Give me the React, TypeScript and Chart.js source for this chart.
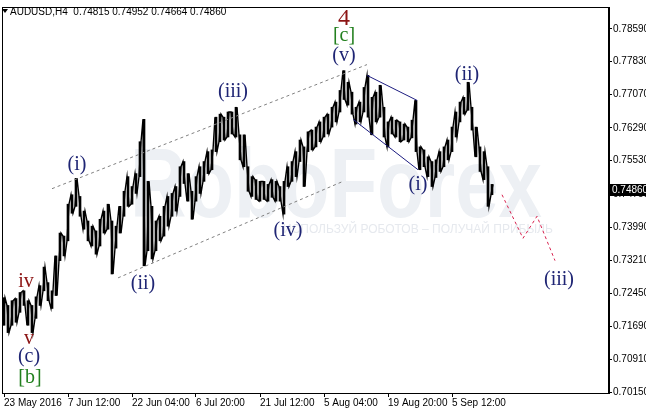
import React, { useEffect, useRef } from 'react';
import { Chart, registerables } from 'chart.js';
Chart.register(...registerables);

// AUDUSD H4 bars (high / low), one entry per bar slot
const highs = [
  0.7235, 0.7217, 0.7228, 0.7233, 0.7247, 0.7251, 0.7228, 0.7217, 0.7237, 0.7263,
  0.7306, 0.7270, 0.7251, 0.7332, 0.7385, 0.7378, 0.7452, 0.7474, 0.7512, 0.7470,
  0.7436, 0.7413, 0.7401, 0.7390, 0.7417, 0.7436, 0.7452, 0.7413, 0.7401, 0.7447,
  0.7482, 0.7516, 0.7493, 0.7523, 0.7597, 0.7649, 0.7505, 0.7447, 0.7413, 0.7424,
  0.7447, 0.7470, 0.7477, 0.7493, 0.7539, 0.7551, 0.7523, 0.7482, 0.7516, 0.7539,
  0.7551, 0.7574, 0.7578, 0.7654, 0.7661, 0.7654, 0.7666, 0.7666, 0.7677, 0.7613,
  0.7613, 0.7539, 0.7516, 0.7509, 0.7505, 0.7505, 0.7498, 0.7509, 0.7505, 0.7493,
  0.7505, 0.7539, 0.7551, 0.7574, 0.7601, 0.7585, 0.7620, 0.7624, 0.7631, 0.7643,
  0.7654, 0.7661, 0.7677, 0.7689, 0.7716, 0.7762, 0.7735, 0.7712, 0.7677, 0.7689,
  0.7723, 0.7751, 0.7700, 0.7712, 0.7728, 0.7677, 0.7643, 0.7654, 0.7647, 0.7643,
  0.7638, 0.7631, 0.7647, 0.7693, 0.7585, 0.7578, 0.7562, 0.7551, 0.7555, 0.7574,
  0.7585, 0.7601, 0.7631, 0.7666, 0.7689, 0.7700, 0.7735, 0.7677, 0.7631, 0.7585,
  0.7574, 0.7539, 0.7498,
];
const lows = [
  0.7171, 0.7154, 0.7171, 0.7178, 0.7201, 0.7217, 0.7171, 0.7154, 0.7187, 0.7217,
  0.7251, 0.7228, 0.7210, 0.7240, 0.7321, 0.7332, 0.7367, 0.7431, 0.7447, 0.7424,
  0.7394, 0.7367, 0.7355, 0.7336, 0.7355, 0.7385, 0.7394, 0.7290, 0.7350, 0.7385,
  0.7424, 0.7447, 0.7452, 0.7477, 0.7516, 0.7309, 0.7344, 0.7325, 0.7344, 0.7367,
  0.7378, 0.7401, 0.7424, 0.7436, 0.7470, 0.7500, 0.7459, 0.7417, 0.7459, 0.7477,
  0.7505, 0.7523, 0.7532, 0.7574, 0.7597, 0.7601, 0.7608, 0.7615, 0.7608, 0.7555,
  0.7539, 0.7482, 0.7470, 0.7463, 0.7459, 0.7463, 0.7459, 0.7468, 0.7459, 0.7459,
  0.7429, 0.7493, 0.7505, 0.7516, 0.7551, 0.7493, 0.7574, 0.7578, 0.7585, 0.7597,
  0.7608, 0.7615, 0.7631, 0.7643, 0.7666, 0.7695, 0.7682, 0.7661, 0.7638, 0.7643,
  0.7666, 0.7654, 0.7613, 0.7643, 0.7654, 0.7608, 0.7585, 0.7615, 0.7608, 0.7597,
  0.7601, 0.7597, 0.7606, 0.7574, 0.7532, 0.7539, 0.7516, 0.7493, 0.7514, 0.7528,
  0.7539, 0.7555, 0.7574, 0.7608, 0.7643, 0.7661, 0.7670, 0.7624, 0.7562, 0.7528,
  0.7509, 0.7447, 0.7474,
];

const priceTicks = [0.7859, 0.7783, 0.7707, 0.7629, 0.7553, 0.7475, 0.7399, 0.7321, 0.7245, 0.7169, 0.7091, 0.7015];
const timeTickPos = [0, 16, 32, 48, 64, 80, 96, 112];
const timeTickLabels = ['23 May 2016', '7 Jun 12:00', '22 Jun 04:00', '6 Jul 20:00', '21 Jul 12:00', '5 Aug 04:00', '19 Aug 20:00', '5 Sep 12:00'];
const lastPrice = 0.7486;
const titleText = 'AUDUSD,H4  0.74815 0.74952 0.74664 0.74860';

// Channel / pattern lines (bar index, price)
const upperChannelX = [12, 90.75];
const upperChannelY = [0.7488, 0.7776];
const lowerChannelX = [28.5, 84.75];
const lowerChannelY = [0.7281, 0.7505];
const wedgeTopX = [90.75, 103.25];
const wedgeTopY = [0.7751, 0.7693];
const wedgeBotX = [87.25, 103.5];
const wedgeBotY = [0.7649, 0.7532];
const forecastX = [124.5, 129.75, 133.25, 137.75];
const forecastY = [0.7474, 0.7373, 0.7424, 0.7321];

// Wave labels
const waveText = ['(i)', '(ii)', '(iii)', '(iv)', '(v)', '[c]', '4', '(i)', '(ii)', '(iii)', 'iv', 'v', '(c)', '[b]'];
const waveX = [18.25, 34.75, 57.25, 71, 85, 85, 85, 103.5, 115.75, 138.75, 5.5, 6.25, 6.25, 6.5];
const waveY = [0.7544, 0.7268, 0.7712, 0.7390, 0.7797, 0.7843, 0.7882, 0.7496, 0.7753, 0.7277, 0.7272, 0.7139, 0.7097, 0.7050];
const NAVY = '#1f2574';
const DRED = '#8c1414';
const GREEN = '#23801f';
const waveColor = [NAVY, NAVY, NAVY, NAVY, NAVY, GREEN, DRED, NAVY, NAVY, NAVY, DRED, DRED, NAVY, GREEN];
const waveSize = [20, 20, 20, 20, 20, 20, 24, 20, 20, 20, 20, 20, 20, 20];

const toXY = (xs: number[], ys: number[]) => xs.map((x, i) => ({ x, y: ys[i] }));

const overlayPlugin = {
  id: 'overlay',
  beforeDatasetsDraw(chart: any) {
    const { ctx, chartArea: a } = chart;
    ctx.save();
    ctx.beginPath();
    ctx.rect(a.left, a.top, a.right - a.left, a.bottom - a.top);
    ctx.clip();
    // faint watermark
    ctx.fillStyle = '#edf0f4';
    ctx.font = 'bold 98px "Liberation Sans", Arial, sans-serif';
    ctx.textBaseline = 'alphabetic';
    const w = ctx.measureText('RoboForex').width;
    const targetW = 412;
    ctx.save();
    ctx.translate(130, 217);
    ctx.scale(targetW / w, 1);
    ctx.fillText('RoboForex', 0, 0);
    ctx.restore();
    ctx.fillStyle = '#e6e9ee';
    ctx.font = '12px "Liberation Sans", Arial, sans-serif';
    ctx.textBaseline = 'middle';
    ctx.fillText('ИСПОЛЬЗУЙ РОБОТОВ – ПОЛУЧАЙ ПРИБЫЛЬ', 283, 230);
    ctx.restore();
  },
  afterDatasetsDraw(chart: any) {
    const { ctx } = chart;
    const xs = chart.scales.x;
    const ys = chart.scales.y;
    ctx.save();
    ctx.textAlign = 'center';
    ctx.textBaseline = 'middle';
    waveText.forEach((t, i) => {
      ctx.font = `${waveSize[i]}px "Liberation Serif", "Times New Roman", serif`;
      ctx.fillStyle = waveColor[i];
      ctx.fillText(t, xs.getPixelForValue(waveX[i]), ys.getPixelForValue(waveY[i]));
    });
    ctx.restore();
  },
  afterDraw(chart: any) {
    const { ctx, chartArea: a } = chart;
    const ys = chart.scales.y;
    ctx.save();
    // frame
    ctx.strokeStyle = '#000';
    ctx.lineWidth = 1;
    ctx.strokeRect(a.left + 0.5, a.top + 0.5, a.right - a.left - 1, a.bottom - a.top);
    // current price box
    const py = Math.round(ys.getPixelForValue(lastPrice));
    ctx.fillStyle = '#000';
    ctx.fillRect(a.right, py - 6, 646 - a.right, 12);
    ctx.fillStyle = '#fff';
    ctx.font = '10px "Liberation Sans", Arial, sans-serif';
    ctx.textAlign = 'left';
    ctx.textBaseline = 'middle';
    ctx.fillText(lastPrice.toFixed(5), a.right + 3, py);
    // title
    ctx.fillStyle = '#000';
    ctx.beginPath();
    ctx.moveTo(2, 9);
    ctx.lineTo(8, 9);
    ctx.lineTo(5, 13);
    ctx.closePath();
    ctx.fill();
    ctx.font = '10px "Liberation Sans", Arial, sans-serif';
    ctx.fillText(titleText, 10, 12);
    ctx.restore();
  },
};

export default function App() {
  const ref = useRef<HTMLCanvasElement>(null);
  useEffect(() => {
    if (!ref.current) return;
    const bars = highs.map((h, i) => ({ x: i, y: [lows[i], h] }));
    // price path through each bar's range (low then high, or high then low alternately)
    const path: { x: number; y: number }[] = [];
    highs.forEach((h, i) => {
      if (i % 2 === 0) {
        path.push({ x: i - 0.25, y: lows[i] });
        path.push({ x: i + 0.25, y: h });
      } else {
        path.push({ x: i - 0.25, y: h });
        path.push({ x: i + 0.25, y: lows[i] });
      }
    });
    const lineDs = (xs: number[], ys: number[], color: string, dash: number[]) => ({
      type: 'line' as const,
      data: toXY(xs, ys),
      borderColor: color,
      borderWidth: 1,
      borderDash: dash,
      pointRadius: 0,
      fill: false,
      tension: 0,
      order: 0,
    });
    const chart = new Chart(ref.current, {
      type: 'bar',
      data: {
        datasets: [
          lineDs(upperChannelX, upperChannelY, '#808080', [3, 3]) as any,
          lineDs(lowerChannelX, lowerChannelY, '#808080', [3, 3]) as any,
          lineDs(wedgeTopX, wedgeTopY, '#1c1c80', []) as any,
          lineDs(wedgeBotX, wedgeBotY, '#1c1c80', []) as any,
          lineDs(forecastX, forecastY, '#d8234f', [3, 3]) as any,
          {
            type: 'line',
            data: path as any,
            borderColor: '#000',
            borderWidth: 1.4,
            pointRadius: 0,
            fill: false,
            tension: 0,
            order: 1,
          } as any,
          {
            type: 'bar',
            data: bars as any,
            backgroundColor: '#000',
            borderWidth: 0,
            barThickness: 2,
            order: 2,
          } as any,
        ],
      },
      options: {
        animation: false,
        responsive: false,
        devicePixelRatio: 1,
        layout: { padding: { left: 2, top: 4, right: 0, bottom: 0 } },
        plugins: { legend: { display: false }, tooltip: { enabled: false }, title: { display: false } },
        scales: {
          x: {
            type: 'linear',
            min: -0.5,
            max: 151.25,
            offset: false,
            grid: { display: true, drawOnChartArea: false, tickLength: 4, color: '#000', offset: false },
            border: { display: true, color: '#000' },
            afterBuildTicks: (s: any) => { s.ticks = timeTickPos.map((v) => ({ value: v })); },
            afterFit: (s: any) => { s.height = 21; },
            ticks: {
              autoSkip: false,
              maxRotation: 0,
              align: 'start',
              padding: 0,
              color: '#000',
              font: { family: '"Liberation Sans", Arial, sans-serif', size: 10 },
              callback: (v: any) => timeTickLabels[timeTickPos.indexOf(Number(v))] ?? '',
            },
          },
          y: {
            type: 'linear',
            position: 'right',
            min: 0.70138,
            max: 0.79097,
            grid: { display: true, drawOnChartArea: false, tickLength: 3, color: '#000' },
            border: { display: true, color: '#000' },
            afterBuildTicks: (s: any) => { s.ticks = priceTicks.map((v) => ({ value: v })); },
            afterFit: (s: any) => { s.width = 37; },
            ticks: {
              autoSkip: false,
              padding: 1,
              color: '#000',
              font: { family: '"Liberation Sans", Arial, sans-serif', size: 10 },
              callback: (v: any) => Number(v).toFixed(5),
            },
          },
        },
      },
      plugins: [overlayPlugin],
    });
    return () => chart.destroy();
  }, []);
  return (
    <div style={{ position: 'fixed', left: 0, top: 0, width: 646, height: 414, background: '#fff' }}>
      <canvas ref={ref} width={646} height={414} style={{ display: 'block' }} />
    </div>
  );
}
